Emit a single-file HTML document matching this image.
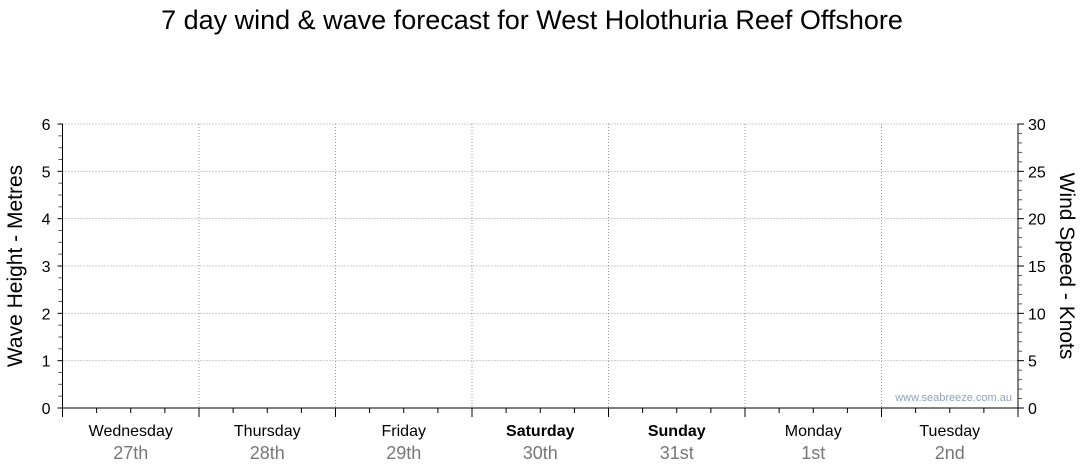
<!DOCTYPE html>
<html><head><meta charset="utf-8"><style>
html,body{margin:0;padding:0;background:#fff;width:1080px;height:475px;overflow:hidden}
svg{font-family:"Liberation Sans","DejaVu Sans",sans-serif}
</style></head><body>
<svg id="chart" width="1080" height="475">
<text x="532" y="29" font-size="27" text-anchor="middle" fill="#000">7 day wind &amp; wave forecast for West Holothuria Reef Offshore</text>
<text transform="translate(22,266) rotate(-90)" font-size="21" text-anchor="middle">Wave Height - Metres</text>
<text transform="translate(1060,266) rotate(90)" font-size="21" text-anchor="middle">Wind Speed - Knots</text>
<text x="1012" y="401" font-size="11" text-anchor="end" fill="#8fa3bf">www.seabreeze.com.au</text>
<g id="grid"></g><g id="axes"></g>
</svg>
<script>
const days=["Wednesday","Thursday","Friday","Saturday","Sunday","Monday","Tuesday"];
const dates=["27th","28th","29th","30th","31st","1st","2nd"];
const weekend=[false,false,false,true,true,false,false];
const waveTicks=[0,1,2,3,4,5,6];
const windTicks=[0,5,10,15,20,25,30];
const waveHeight=[];
const windSpeed=[];
const X0=62.5,X1=1018,Y0=408,Y1=124;
const dayW=(X1-X0)/days.length;
const xd=d=>X0+d*dayW;
const yw=v=>Y0-(v/6)*(Y0-Y1);
const yk=v=>Y0-(v/30)*(Y0-Y1);
const NS="http://www.w3.org/2000/svg";
const grid=document.getElementById('grid'),axes=document.getElementById('axes');
function mk(tag,attrs,parent){const e=document.createElementNS(NS,tag);for(const k in attrs)e.setAttribute(k,attrs[k]);parent.appendChild(e);return e;}
waveTicks.forEach(v=>{if(v>0){const l=mk('line',{x1:X0,x2:X1,y1:yw(v),y2:yw(v),stroke:'#999','stroke-dasharray':'1,2'},grid);

}});
for(let d=1;d<days.length;d++){const l=mk('line',{x1:xd(d),x2:xd(d),y1:Y1,y2:Y0,stroke:'#999','stroke-dasharray':'1,2'},grid);

}
const la=mk('line',{x1:X0,x2:X0,y1:Y1,y2:Y0+1,stroke:'#000'},axes);


const ra=mk('line',{x1:X1,x2:X1,y1:Y1,y2:Y0+1,stroke:'#000'},axes);


const ba=mk('line',{x1:X0,x2:X1,y1:Y0,y2:Y0,stroke:'#000'},axes);


for(let i=0;i<=24;i++){const v=i/4,y=yw(v);mk('line',{x1:X0-(i%4==0?5:4),x2:X0,y1:y,y2:y,stroke:i%4==0?'#000':'#555'},axes);}
waveTicks.forEach(v=>{const t=mk('text',{x:X0-12,y:yw(v)+6,'font-size':16,'text-anchor':'end'},axes);t.textContent=v;

});
for(let i=0;i<=30;i++){const y=yk(i);mk('line',{x1:X1,x2:X1+(i%5==0?6:4),y1:y,y2:y,stroke:i%5==0?'#000':'#555'},axes);}
windTicks.forEach(v=>{const t=mk('text',{x:X1+10,y:yk(v)+6,'font-size':16},axes);t.textContent=v;

});
for(let i=0;i<=days.length*4;i++){const x=X0+i*dayW/4;mk('line',{x1:x,x2:x,y1:Y0,y2:Y0+(i%4==0?9:5),stroke:'#000'},axes);}
days.forEach((d,i)=>{const cx=xd(i+0.5);
const t=mk('text',{x:cx,y:436,'font-size':16,'text-anchor':'middle','font-weight':weekend[i]?'bold':'normal'},axes);t.textContent=d;


const t2=mk('text',{x:cx,y:459,'font-size':18,'text-anchor':'middle',fill:'#777'},axes);t2.textContent=dates[i];

});
</script>
</body></html>
